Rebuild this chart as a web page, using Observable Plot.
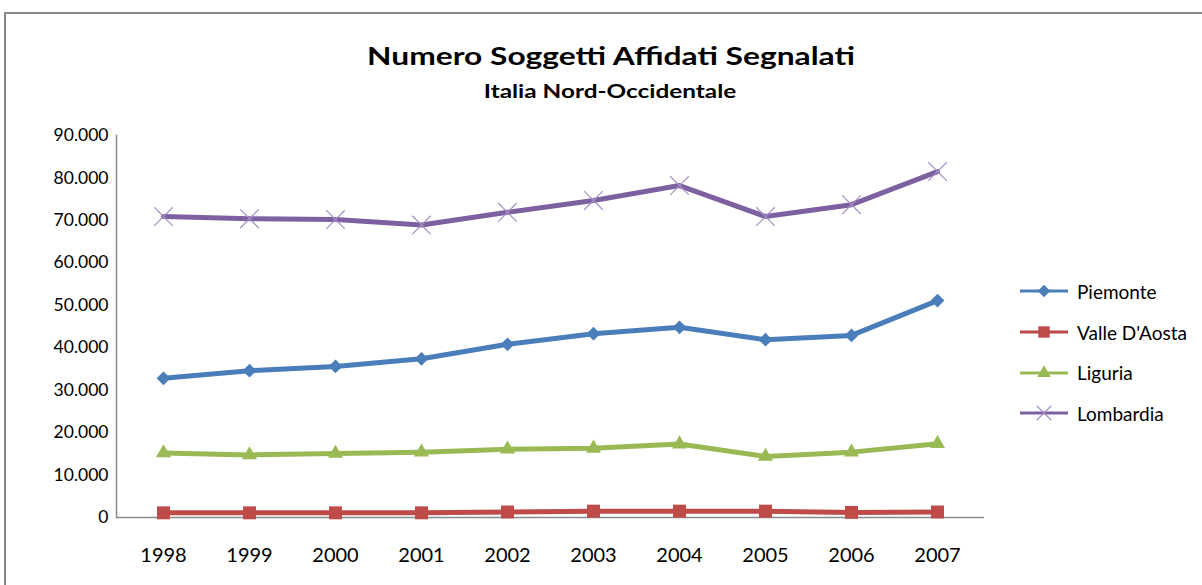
<!DOCTYPE html>
<html>
<head>
<meta charset="utf-8">
<script src="https://cdn.jsdelivr.net/npm/d3@7"></script>
<script src="https://cdn.jsdelivr.net/npm/@observablehq/plot@0.6"></script>
<style>
  html, body { margin: 0; padding: 0; background: #fff; width: 1202px; height: 585px; overflow: hidden; font-family: Lato, "Open Sans", sans-serif; }
  #frame { position: absolute; left: 4px; top: 12px; width: 1260px; height: 700px; border: 2px solid #878787; box-sizing: border-box; }
  #title { position: absolute; left: 0; width: 1222px; top: 40px; text-align: center; font-size: 25px; font-weight: 700; color: #000; transform: scaleX(1.27); transform-origin: 611px 0; }
  #subtitle { position: absolute; left: 0; width: 1220px; top: 79px; text-align: center; font-size: 19px; font-weight: 700; color: #000; transform: scaleX(1.28); transform-origin: 610px 0; }
  #chart { position: absolute; left: 0; top: 120px; }
  #legend { position: absolute; left: 1018px; top: 271px; font-size: 19px; color: #000; }
  .item { display: flex; align-items: center; height: 40.7px; }
  .item svg { margin-right: 5px; }
</style>
</head>
<body>
<div id="frame"></div>
<div id="title">Numero Soggetti Affidati Segnalati</div>
<div id="subtitle">Italia Nord-Occidentale</div>
<div id="chart"></div>
<div id="legend"></div>
<script>
const years = ["1998","1999","2000","2001","2002","2003","2004","2005","2006","2007"];
const regions = ["Piemonte","Valle D'Aosta","Liguria","Lombardia"];
const piemonte  = [32800, 34600, 35600, 37400, 40800, 43300, 44800, 41900, 42900, 51100];
const valle     = [1100, 1100, 1100, 1100, 1300, 1500, 1500, 1500, 1200, 1300];
const liguria   = [15200, 14750, 15100, 15400, 16100, 16300, 17300, 14400, 15400, 17400];
const lombardia = [70900, 70400, 70200, 68900, 71900, 74700, 78200, 70900, 73700, 81500];
const yTicks = [0, 10000, 20000, 30000, 40000, 50000, 60000, 70000, 80000, 90000];
const colors = ["#4A7EBB", "#BE4B48", "#98B954", "#7D60A0"];
const symbols = ["diamond2", "square", "triangle", "times"];
const crossColor = "#a58fc4";

const series = [piemonte, valle, liguria, lombardia];
const data = [];
regions.forEach((r, i) => years.forEach((y, j) => data.push({region: r, year: y, value: series[i][j]})));

const fmt = d => d === 0 ? "0" : d3.format(",")(d).replace(/,/g, ".");

const chart = Plot.plot({
  width: 1000,
  height: 457,
  marginLeft: 116,
  marginRight: 16,
  marginTop: 15,
  marginBottom: 60,
  style: {fontFamily: "Lato, sans-serif", fontSize: "17.5px", color: "#000", background: "transparent"},
  x: {type: "point", domain: years, padding: 0.5, label: null, tickSize: 0, tickPadding: 30},
  y: {domain: [0, 90000], ticks: yTicks, tickFormat: fmt, label: null, tickSize: 0, tickPadding: 8},
  color: {domain: regions, range: colors},
  marks: [
    Plot.axisX({tickSize: 0, tickPadding: 30, fontSize: 20, label: null}),
    Plot.axisY({ticks: yTicks, tickFormat: fmt, tickSize: 0, tickPadding: 8, label: null}),
    Plot.ruleY([0], {stroke: "#8a8a8a", strokeWidth: 1.5}),
    Plot.frame({anchor: "left", stroke: "#8a8a8a", strokeWidth: 1.5}),
    Plot.line(data, {x: "year", y: "value", z: "region", stroke: "region", strokeWidth: 5, curve: "linear"}),
    Plot.dot(data.filter(d => d.region === "Piemonte"), {x: "year", y: "value", symbol: () => "diamond2", fill: "region", stroke: "none", r: 6.2}),
    Plot.dot(data.filter(d => d.region === "Valle D'Aosta"), {x: "year", y: "value", symbol: () => "square", fill: "region", stroke: "none", r: 7.3}),
    Plot.dot(data.filter(d => d.region === "Liguria"), {x: "year", y: "value", symbol: () => "triangle", fill: "region", stroke: "none", r: 5.6}),
    Plot.dot(data.filter(d => d.region === "Lombardia"), {x: "year", y: "value", symbol: () => "times", stroke: crossColor, fill: "none", strokeWidth: 1.2, r: 8.5})
  ]
});
document.getElementById("chart").appendChild(chart);

// Legend
const legend = d3.select("#legend");
const legendSym = {diamond2: [d3.symbolDiamond2, 100], square: [d3.symbolSquare, 130], triangle: [d3.symbolTriangle, 80], times: [d3.symbolTimes, 140]};
regions.forEach((r, i) => {
  const item = legend.append("div").attr("class", "item");
  const s = item.append("svg").attr("width", 54).attr("height", 20);
  s.append("line").attr("x1", 2).attr("x2", 50).attr("y1", 10).attr("y2", 10).attr("stroke", colors[i]).attr("stroke-width", 3);
  const [sym, size] = legendSym[symbols[i]];
  const p = s.append("path").attr("transform", "translate(26,10)").attr("d", d3.symbol(sym, size)());
  if (symbols[i] === "times") p.attr("fill", "none").attr("stroke", crossColor).attr("stroke-width", 1.2);
  else p.attr("fill", colors[i]);
  item.append("span").text(r);
});
</script>
</body>
</html>
